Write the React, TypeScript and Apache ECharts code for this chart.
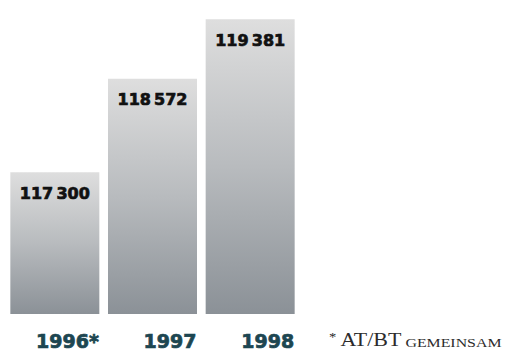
import React, { useEffect, useRef } from "react";
import * as echarts from "echarts";

const years = ["1996*", "1997", "1998"];
const members = [117300, 118572, 119381];
const footnoteStar = "*";
const footnoteMark = "AT/BT";
const footnoteText = "GEMEINSAM";

const fmt = (v: number) => {
  const s = String(v);
  return s.slice(0, s.length - 3) + "\u2009" + s.slice(-3);
};

export default function App() {
  const ref = useRef<HTMLDivElement>(null);

  useEffect(() => {
    if (!ref.current) return;
    const chart = echarts.init(ref.current, null, { renderer: "svg" });
    chart.setOption({
      animation: false,
      backgroundColor: "#ffffff",
      grid: { left: 6, right: 212, top: 10, bottom: 37 },
      xAxis: {
        type: "category",
        data: years,
        axisLine: { show: false },
        axisTick: { show: false },
        axisLabel: {
          show: true,
          margin: 17,
          width: 88,
          align: "center",
          formatter: (v: string) => "{y|" + v + "}",
          rich: {
            y: {
              align: "right",
              color: "#1d4651",
              fontFamily: "DejaVu Sans",
              fontWeight: "bold",
              fontSize: 19,
              textBorderColor: "#1d4651",
              textBorderWidth: 0.7,
            },
          },
        },
      },
      yAxis: {
        type: "value",
        min: 115372,
        max: 119507,
        show: false,
        splitLine: { show: false },
      },
      series: [
        {
          type: "bar",
          data: members,
          barWidth: 89,
          itemStyle: {
            color: new echarts.graphic.LinearGradient(0, 0, 0, 1, [
              { offset: 0, color: "#dedede" },
              { offset: 0.5, color: "#b8bbbe" },
              { offset: 1, color: "#8b9197" },
            ]),
          },
          label: {
            show: true,
            position: "insideTop",
            distance: 13,
            color: "#111111",
            fontFamily: "DejaVu Sans",
            fontWeight: "bold",
            fontSize: 16,
            textBorderColor: "#111111",
            textBorderWidth: 0.7,
            formatter: (p: any) => fmt(p.value),
          },
        },
      ],
      graphic: [
        {
          type: "text",
          x: 329,
          y: 331,
          scaleX: 1.22,
          style: {
            text:
              "{s|" + footnoteStar + "} {a|" + footnoteMark + "} {b|" + footnoteText + "}",
            fill: "#2b2b2b",
            rich: {
              s: {
                fontFamily: "Liberation Serif",
                fontSize: 12,
                fill: "#2b2b2b",
                verticalAlign: "top",
              },
              a: {
                fontFamily: "Liberation Serif",
                fontSize: 18,
                fill: "#2b2b2b",
                verticalAlign: "bottom",
              },
              b: {
                fontFamily: "Liberation Serif",
                fontSize: 13,
                fill: "#2b2b2b",
                verticalAlign: "bottom",
              },
            },
          },
        },
      ],
    });
    return () => chart.dispose();
  }, []);

  return (
    <div
      ref={ref}
      style={{ position: "fixed", left: 0, top: 0, width: 511, height: 351 }}
    />
  );
}
